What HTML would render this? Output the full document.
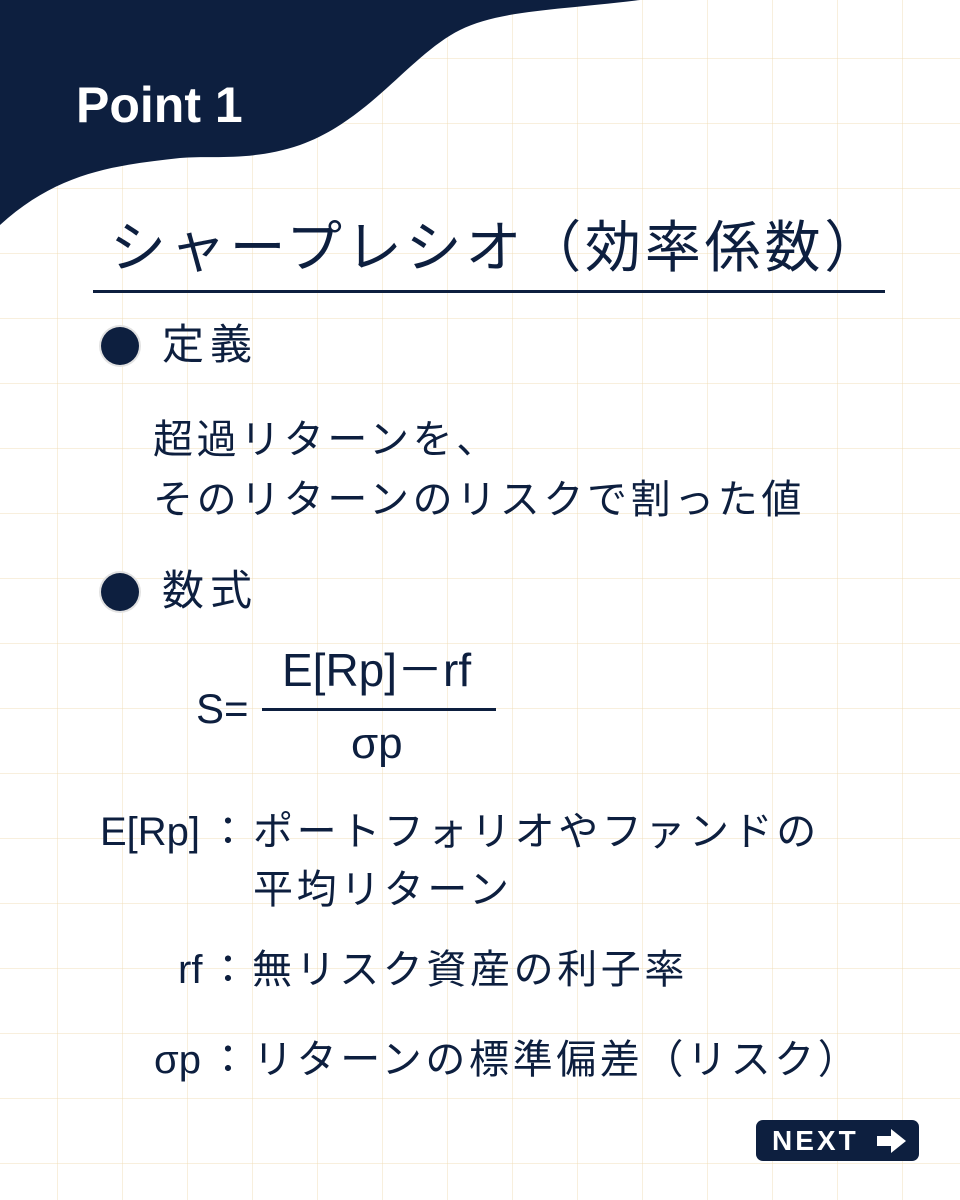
<!DOCTYPE html>
<html><head><meta charset="utf-8"><style>
body{margin:0;width:960px;height:1200px;position:relative;overflow:hidden;background:#fff;
background-image:linear-gradient(90deg,rgba(240,220,180,.45) 1px,transparent 1px),linear-gradient(rgba(240,220,180,.45) 1px,transparent 1px);
background-size:65px 65px;background-position:57px 58px;
font-family:"Liberation Sans","Noto Sans CJK JP",sans-serif;color:#0d1f3f}
.t{position:absolute;white-space:nowrap;line-height:1}
.j{font-size:40px;letter-spacing:3.6px}
.dot{position:absolute;width:38px;height:38px;border-radius:50%;background:#0d1f3f;box-shadow:0 0 0 2px #e2e2e2}
</style></head><body>
<svg width="960" height="1200" style="position:absolute;left:0;top:0">
<path d="M0,0 L640,0 C560,10 500,10 460,30 C410,55 370,120 300,145 C250,162 210,155 180,158 C120,165 60,170 0,225 Z" fill="#0d1f3f"/>
<rect x="93" y="290" width="792" height="3" fill="#0d1f3f"/>
<rect x="262" y="708" width="234" height="3" fill="#0d1f3f"/>
</svg>
<div class="t" style="left:76px;top:80px;font-size:50px;font-weight:bold;color:#fff">Point 1</div>
<div class="t" style="left:110px;top:220px;font-size:56px;letter-spacing:3.8px">シャープレシオ（効率係数）</div>
<div class="dot" style="left:101px;top:327px"></div>
<div class="t" style="left:162px;top:324px;font-size:42px;letter-spacing:6px">定義</div>
<div class="t j" style="left:153px;top:410px;line-height:60px">超過リターンを、<br>そのリターンのリスクで割った値</div>
<div class="dot" style="left:101px;top:573px"></div>
<div class="t" style="left:162px;top:570px;font-size:42px;letter-spacing:6px">数式</div>
<div class="t" style="left:196px;top:688px;font-size:42px">S=</div>
<div class="t" style="left:282px;top:647px;font-size:46px">E[Rp]－rf</div>
<div class="t" style="left:351px;top:722px;font-size:44px">σp</div>
<div class="t" style="left:100px;top:812px;font-size:40px">E[Rp]</div>
<div class="t j" style="left:208px;top:812px">：</div>
<div class="t j" style="left:253px;top:812px">ポートフォリオやファンドの</div>
<div class="t j" style="left:253px;top:870px">平均リターン</div>
<div class="t" style="left:178px;top:950px;font-size:40px">rf</div>
<div class="t j" style="left:208px;top:950px">：</div>
<div class="t j" style="left:252px;top:950px">無リスク資産の利子率</div>
<div class="t" style="left:154px;top:1040px;font-size:40px">σp</div>
<div class="t j" style="left:208px;top:1040px">：</div>
<div class="t j" style="left:253px;top:1040px">リターンの標準偏差（リスク）</div>
<div style="position:absolute;left:756px;top:1120px;width:163px;height:41px;border-radius:7px;background:#0d1f3f;color:#fff;font-weight:bold;font-size:28px;line-height:41px;letter-spacing:3px;padding-left:16px;box-sizing:border-box">NEXT
<svg width="32" height="26" style="position:absolute;left:120px;top:8px"><path d="M1,8 H15 V1 L30,13 L15,25 V18 H1 Z" fill="#fff"/></svg></div>
</body></html>
